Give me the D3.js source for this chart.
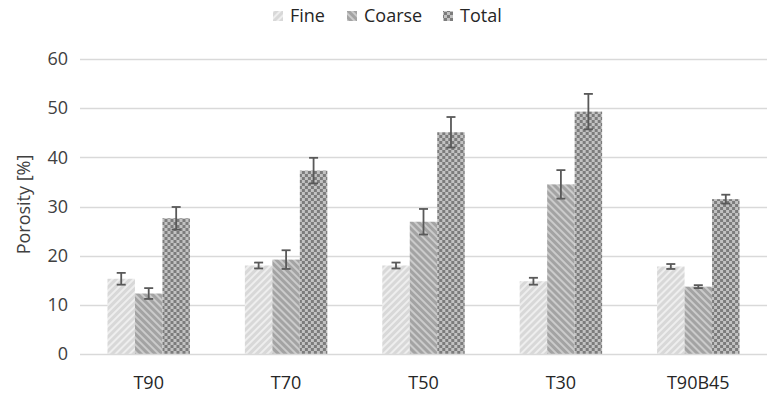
<!DOCTYPE html>
<html>
<head>
<meta charset="utf-8">
<script src="https://cdn.jsdelivr.net/npm/d3@7"></script>
<style>
  html, body { margin: 0; padding: 0; background: #fff; }
  svg { display: block; font-family: "Open Sans", "DejaVu Sans", sans-serif; }
</style>
</head>
<body>
<svg id="chart" width="771" height="398"></svg>
<script>
// Sample groups and porosity results (mean ± standard deviation, %)
const categories = ["T90", "T70", "T50", "T30", "T90B45"];
const seriesNames = ["Fine", "Coarse", "Total"];
const fineMean   = [15.3, 18.0, 18.0, 14.8, 17.8];
const fineErr    = [1.2, 0.6, 0.6, 0.7, 0.5];
const coarseMean = [12.3, 19.2, 26.9, 34.5, 13.7];
const coarseErr  = [1.1, 1.9, 2.6, 2.9, 0.3];
const totalMean  = [27.6, 37.3, 45.1, 49.3, 31.5];
const totalErr   = [2.3, 2.6, 3.1, 3.6, 0.9];
const yTicks = [0, 10, 20, 30, 40, 50, 60];

const means = [fineMean, coarseMean, totalMean];
const errs = [fineErr, coarseErr, totalErr];

const svg = d3.select("#chart");
const margin = { left: 80, right: 4, top: 59, bottom: 44 };
const W = 771, H = 398;
const FONT = 18;

// Hatch and checker fills for the three series
const defs = svg.append("defs");
const pFine = defs.append("pattern").attr("id", "pat-fine")
  .attr("patternUnits", "userSpaceOnUse").attr("width", 5).attr("height", 5)
  .attr("patternTransform", "rotate(45)");
pFine.append("rect").attr("width", 5).attr("height", 5).attr("fill", "#d8d8d8");
pFine.append("rect").attr("width", 2).attr("height", 5).attr("fill", "#eeeeee");

const pCoarse = defs.append("pattern").attr("id", "pat-coarse")
  .attr("patternUnits", "userSpaceOnUse").attr("width", 5).attr("height", 5)
  .attr("patternTransform", "rotate(-45)");
pCoarse.append("rect").attr("width", 5).attr("height", 5).attr("fill", "#a3a3a3");
pCoarse.append("rect").attr("width", 2).attr("height", 5).attr("fill", "#cbcbcb");

const pTotal = defs.append("pattern").attr("id", "pat-total")
  .attr("patternUnits", "userSpaceOnUse").attr("width", 6).attr("height", 6);
pTotal.append("rect").attr("width", 6).attr("height", 6).attr("fill", "#c2c2c2");
pTotal.append("rect").attr("width", 3).attr("height", 3).attr("fill", "#7c7c7c");
pTotal.append("rect").attr("x", 3).attr("y", 3).attr("width", 3).attr("height", 3).attr("fill", "#7c7c7c");

const fills = ["url(#pat-fine)", "url(#pat-coarse)", "url(#pat-total)"];

const x0 = d3.scaleBand().domain(categories)
  .range([margin.left, W - margin.right]).paddingInner(0.4).paddingOuter(0.2);
const x1 = d3.scaleBand().domain(seriesNames).range([0, x0.bandwidth()]);
const y = d3.scaleLinear().domain([0, 60]).range([H - margin.bottom, margin.top]);

// Gridlines
svg.append("g").selectAll("line").data(yTicks.filter(t => t > 0)).join("line")
  .attr("x1", margin.left).attr("x2", W - margin.right)
  .attr("y1", d => Math.round(y(d)) + 0.5).attr("y2", d => Math.round(y(d)) + 0.5)
  .attr("stroke", "#d9d9d9").attr("stroke-width", 1.3);

// Y axis labels
const yAxis = svg.append("g").attr("transform", `translate(${margin.left},0)`)
  .call(d3.axisLeft(y).tickValues(yTicks).tickSize(0).tickPadding(12));
yAxis.select(".domain").remove();
yAxis.selectAll("text").attr("font-size", FONT).attr("fill", "#404040")
  .attr("font-family", "'Open Sans', sans-serif");

// Bars
const groups = svg.append("g").selectAll("g").data(categories).join("g")
  .attr("transform", d => `translate(${x0(d)},0)`);

seriesNames.forEach((s, si) => {
  groups.append("rect")
    .attr("x", x1(s))
    .attr("width", x1.bandwidth())
    .attr("y", (d, i) => y(means[si][i]))
    .attr("height", (d, i) => y(0) - y(means[si][i]))
    .attr("fill", fills[si]);
});

// Error bars
seriesNames.forEach((s, si) => {
  const cx = x1(s) + x1.bandwidth() / 2;
  const eb = groups.append("g").attr("stroke", "#595959").attr("stroke-width", 1.8);
  eb.append("line").attr("x1", cx).attr("x2", cx)
    .attr("y1", (d, i) => y(means[si][i] + errs[si][i]))
    .attr("y2", (d, i) => y(means[si][i] - errs[si][i]));
  [1, -1].forEach(sgn => {
    eb.append("line").attr("x1", cx - 4.5).attr("x2", cx + 4.5)
      .attr("y1", (d, i) => y(means[si][i] + sgn * errs[si][i]))
      .attr("y2", (d, i) => y(means[si][i] + sgn * errs[si][i]));
  });
});

// X axis line and labels
svg.append("line").attr("x1", margin.left).attr("x2", W - margin.right)
  .attr("y1", y(0) + 0.5).attr("y2", y(0) + 0.5)
  .attr("stroke", "#d9d9d9").attr("stroke-width", 1.3);
const xAxis = svg.append("g").attr("transform", `translate(0,${y(0)})`)
  .call(d3.axisBottom(x0).tickSize(0).tickPadding(22));
xAxis.select(".domain").remove();
xAxis.selectAll("text").attr("font-size", FONT).attr("fill", "#262626")
  .attr("font-family", "'Open Sans', sans-serif");

// Y axis title
svg.append("text")
  .attr("transform", `translate(30,${(y(0) + y(60)) / 2 - 2}) rotate(-90)`)
  .attr("text-anchor", "middle").attr("font-size", FONT).attr("fill", "#404040")
  .text("Porosity [%]");

// Legend
const legendItems = [
  { name: "Fine", x: 273 },
  { name: "Coarse", x: 347 },
  { name: "Total", x: 443 }
];
const lg = svg.append("g");
legendItems.forEach((it, i) => {
  lg.append("rect").attr("x", it.x).attr("y", 11).attr("width", 10).attr("height", 10)
    .attr("fill", fills[i]);
  lg.append("text").attr("x", it.x + 17).attr("y", 22)
    .attr("font-size", FONT).attr("fill", "#262626").text(it.name);
});
</script>
</body>
</html>
